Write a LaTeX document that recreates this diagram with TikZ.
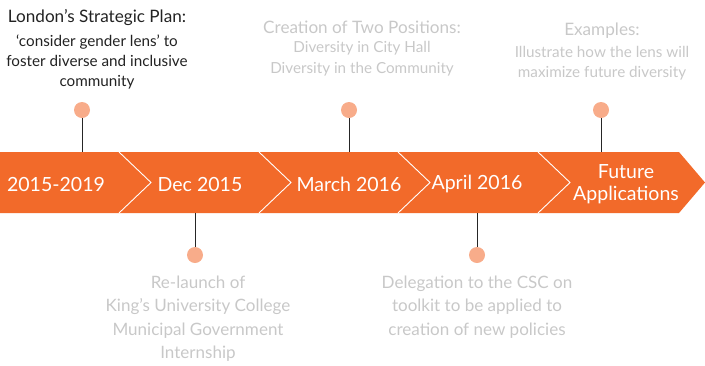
\documentclass[tikz,border=0pt]{standalone}
\usepackage{fontspec}
\setmainfont{Lato}
\definecolor{bandc}{HTML}{F26A2A}
\definecolor{dotc}{HTML}{F8AC8A}
\definecolor{lite}{HTML}{C8C8C8}
\definecolor{darkt}{HTML}{222222}
\begin{document}
\begin{tikzpicture}[x=1bp,y=-1bp,
  dotn/.style={circle,fill=dotc,inner sep=0pt,minimum size=16bp},
  stem/.style={draw=black!85,line width=0.9bp},
  sep/.style={draw=white,line width=0.9bp},
  bandlbl/.style={text=white,font=\fontsize{19.6}{22}\selectfont,align=center,inner sep=0pt},
  ttl/.style={font=\fontsize{17.2}{20}\selectfont,inner sep=0pt},
  body/.style={font=\fontsize{15.3}{20.5}\selectfont,align=center,inner sep=0pt},
  lowtxt/.style={text=lite,font=\fontsize{17.1}{23.5}\selectfont,align=center,inner sep=0pt}]
\useasboundingbox (0,0) rectangle (705,365);
% band
\fill[bandc] (0,152) -- (679,152) -- (705,182.5) -- (679,213) -- (0,213) -- cycle;
\foreach \x in {119,259,398,538}{
  \draw[sep] (\x,152) -- (\x+32,182.5) -- (\x,213);
}
% band labels
\node[bandlbl] (l1) at (56,184) {2015-2019};
\node[bandlbl] (l2) at (200,184) {Dec 2015};
\node[bandlbl] (l3) at (349,184) {March 2016};
\node[bandlbl] (l4) at (477,184) {April 2016};
\node[bandlbl] (l5) at (626,184) {Future\\Applications};
% anchor points on band
\coordinate (b1) at (82,152);
\coordinate (b2) at (195,213);
\coordinate (b3) at (349,152);
\coordinate (b4) at (477,213);
\coordinate (b5) at (601,152);
% dots
\node[dotn] (d1) at (82,110) {};
\node[dotn] (d2) at (195,255) {};
\node[dotn] (d3) at (349,110) {};
\node[dotn] (d4) at (477,255) {};
\node[dotn] (d5) at (601,110) {};
\draw[stem] (d1) -- (b1);
\draw[stem] (d2) -- (b2);
\draw[stem] (d3) -- (b3);
\draw[stem] (d4) -- (b4);
\draw[stem] (d5) -- (b5);
% top texts
\node[ttl,text=darkt] (t1) at (97,18) {London’s Strategic Plan:};
\node[body,text=darkt] (s1) at (97,62) {‘consider gender lens’ to\\foster diverse and inclusive\\community};
\node[ttl,text=lite] (t3) at (362,27) {Creation of Two Positions:};
\node[body,text=lite] (s3) at (362,58.5) {Diversity in City Hall\\Diversity in the Community};
\node[ttl,text=lite] (t5) at (602,31) {Examples:};
\node[body,text=lite] (s5) at (602,63) {Illustrate how the lens will\\maximize future diversity};
% bottom texts
\node[lowtxt] (s2) at (198,318.5) {Re-launch of\\King’s University College\\Municipal Government\\Internship};
\node[lowtxt] (s4) at (477,307) {Delegation to the CSC on\\toolkit to be applied to\\creation of new policies};
\end{tikzpicture}
\end{document}
